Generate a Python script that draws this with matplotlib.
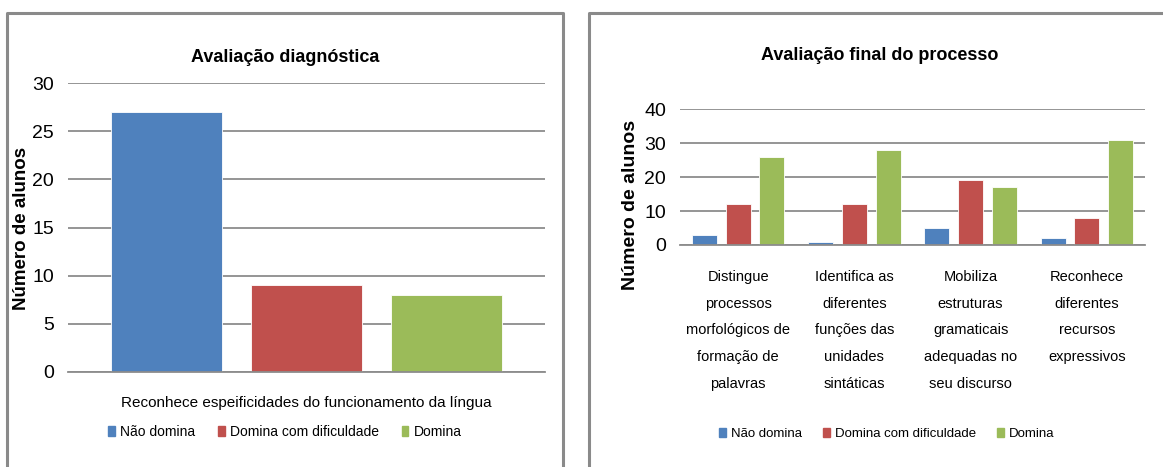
import matplotlib
matplotlib.use("Agg")
import matplotlib.pyplot as plt
import numpy as np
from matplotlib.patches import Patch

plt.rcParams['font.family'] = ['Liberation Sans', 'DejaVu Sans']

# data
series = ["Não domina", "Domina com dificuldade", "Domina"]
colors = ["#4F81BD", "#C0504D", "#9BBB59"]

diag_category = ["Reconhece espeificidades do funcionamento da língua"]
diag_values = [[27], [9], [8]]

final_categories = ["Distingue\nprocessos\nmorfológicos de\nformação de\npalavras",
                    "Identifica as\ndiferentes\nfunções das\nunidades\nsintáticas",
                    "Mobiliza\nestruturas\ngramaticais\nadequadas no\nseu discurso",
                    "Reconhece\ndiferentes\nrecursos\nexpressivos"]
final_nao = [3, 1, 5, 2]
final_dif = [12, 12, 19, 8]
final_dom = [26, 28, 17, 31]

W, H = 1163, 467
fig = plt.figure(figsize=(W / 100, H / 100), dpi=100)


def fx(px):
    return px / W


def fy(py):
    return 1 - py / H


# panel borders (bottom is cut off in the reference)
for x0, x1 in [(7, 563), (589, 1170)]:
    fig.add_artist(plt.Line2D([fx(x0), fx(x0), fx(x1), fx(x1)],
                              [fy(480), fy(13), fy(13), fy(480)],
                              color="#8a8a8a", lw=2.2, transform=fig.transFigure))


def style(ax, ymax, step):
    ax.set_ylim(0, ymax)
    ax.set_yticks(np.arange(0, ymax + 1, step))
    ax.yaxis.grid(True, color="#8c8c8c", lw=1.3)
    ax.set_axisbelow(True)
    for s in ["top", "right", "left"]:
        ax.spines[s].set_visible(False)
    ax.spines["bottom"].set_color("#8c8c8c")
    ax.spines["bottom"].set_linewidth(1.3)
    ax.tick_params(axis="y", length=0, labelsize=14, pad=10)
    ax.tick_params(axis="x", length=0)


# left chart
ax1 = fig.add_axes([fx(68), fy(372), fx(545 - 68), (372 - 83) / H])
x = np.arange(len(diag_category))
bw = 0.232
step = 0.293
for i in range(3):
    ax1.bar(x + (i - 1) * step, diag_values[i], bw, color=colors[i],
            edgecolor="white", linewidth=0.6)
ax1.set_xlim(-0.5, 0.5)
style(ax1, 30, 5)
ax1.set_xticks(x)
ax1.set_xticklabels(diag_category, fontsize=11)
ax1.tick_params(axis="x", pad=17)
fig.text(fx(285), fy(57), "Avaliação diagnóstica", ha="center", va="center",
         fontsize=13, fontweight="bold")
fig.text(fx(22), fy(228), "Número de alunos", rotation=90, ha="center", va="center",
         fontsize=13.5, fontweight="bold")
handles = [Patch(color=c, label=s) for c, s in zip(colors, series)]
fig.legend(handles=handles, loc="center", bbox_to_anchor=(fx(285), fy(432)), ncol=3,
           frameon=False, fontsize=10, handlelength=0.5, handleheight=0.7,
           handletextpad=0.4, columnspacing=1.6)

# right chart
ax2 = fig.add_axes([fx(680), fy(245), fx(1145 - 680), (245 - 109) / H])
x = np.arange(len(final_categories))
bw = 0.215
step = 0.29
for i, vals in enumerate([final_nao, final_dif, final_dom]):
    ax2.bar(x + (i - 1) * step, vals, bw, color=colors[i],
            edgecolor="white", linewidth=0.6)
ax2.set_xlim(-0.5, len(final_categories) - 0.5)
style(ax2, 40, 10)
ax2.set_xticks(x)
ax2.set_xticklabels(final_categories, fontsize=10.5, linespacing=2.15)
ax2.tick_params(axis="x", pad=18)
fig.text(fx(880), fy(55), "Avaliação final do processo", ha="center", va="center",
         fontsize=13, fontweight="bold")
fig.text(fx(630), fy(205), "Número de alunos", rotation=90, ha="center", va="center",
         fontsize=14, fontweight="bold")
fig.legend(handles=handles, loc="center", bbox_to_anchor=(fx(887), fy(434)), ncol=3,
           frameon=False, fontsize=9.5, handlelength=0.5, handleheight=0.7,
           handletextpad=0.4, columnspacing=1.6)

fig.savefig("out.png", dpi=100, facecolor="white")
